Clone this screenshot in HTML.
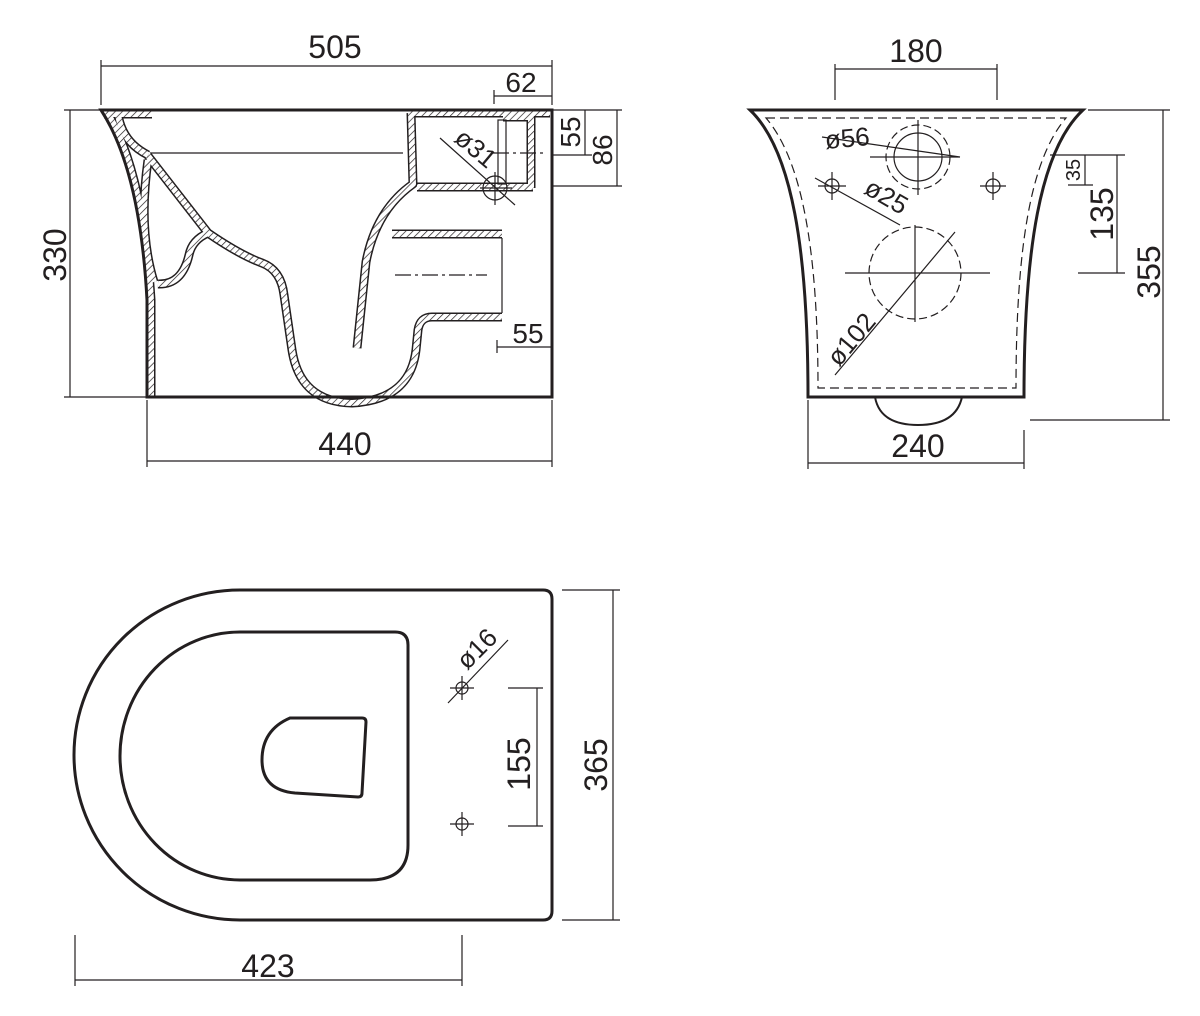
<!DOCTYPE html>
<html><head><meta charset="utf-8"><style>html,body{margin:0;padding:0;background:#fff}svg{display:block}text{font-family:"Liberation Sans",sans-serif;fill:#231f20}</style></head><body>
<svg width="1200" height="1016" viewBox="0 0 1200 1016" xmlns="http://www.w3.org/2000/svg">
<defs><pattern id="h" width="5" height="5" patternUnits="userSpaceOnUse" patternTransform="rotate(45)"><rect width="5" height="5" fill="#fff"/><line x1="0" y1="0" x2="0" y2="5" stroke="#231f20" stroke-width="1.4"/></pattern></defs>
<!-- side view hatched bands -->
<g fill="none" stroke-linejoin="round">
<g stroke="#231f20" stroke-width="9">
<path d="M108 114 Q143 172 151 300 V397"/>
<path d="M104 114 H152"/>
<path d="M118 114 Q122 142 148 155"/>
<path d="M148 156 L208 233 Q240 255 262 263 Q281 270 284 295 L292 350 Q300 402 352 403 Q410 400 416 350 L418 330 Q420 317 432 317 H502"/>
<path d="M208 233 Q192 240 189 255 Q182 285 158 284"/>
<path d="M148 160 Q138 230 154 282"/>
<path d="M409 113 H550"/>
<path d="M411 113 L413 184 Q376 210 366 262 L357 348"/>
<path d="M417 187 H533"/>
<path d="M392 234 H502"/>
<path d="M503 117 H531 V188"/>
</g>
<g stroke="url(#h)" stroke-width="6">
<path d="M108 114 Q143 172 151 300 V397"/>
<path d="M104 114 H152"/>
<path d="M118 114 Q122 142 148 155"/>
<path d="M148 156 L208 233 Q240 255 262 263 Q281 270 284 295 L292 350 Q300 402 352 403 Q410 400 416 350 L418 330 Q420 317 432 317 H502"/>
<path d="M208 233 Q192 240 189 255 Q182 285 158 284"/>
<path d="M148 160 Q138 230 154 282"/>
<path d="M409 113 H550"/>
<path d="M411 113 L413 184 Q376 210 366 262 L357 348"/>
<path d="M417 187 H533"/>
<path d="M392 234 H502"/>
<path d="M503 117 H531 V188"/>
</g>
</g>
<g stroke="#231f20" fill="none" stroke-width="1.2">
<path d="M101 110 H552 V397 H147 V300 Q140 170 101 110 Z" stroke-width="3"/>
<path d="M150 153 H403"/>
<path d="M502 238 V313"/>
<rect x="498" y="120" width="8" height="64"/>
<circle cx="495" cy="188" r="12"/>
<path d="M395 275 H487 M493 153 H547" stroke-dasharray="16 4 3 4"/>
<path d="M440 138 L515 205 M495 172 V205 M480 188 H512"/>
<!-- side dims -->
<path d="M101 105 V60 M552 105 V60 M101 66 H552 M494 90 V104 M494 96 H552 M552 60 V104"/>
<path d="M64 110 H100 M64 397 H146 M70 110 V397 M552 110 H622 M552 186 H622 M552 155 H592 M585 110 V155 M617 110 V186"/>
<path d="M147 400 V467 M552 400 V467 M147 461 H552 M497 340 V353 M497 347 H552"/>
</g>
<g font-size="32">
<text x="335" y="58" text-anchor="middle">505</text>
<text x="521" y="92" text-anchor="middle" font-size="28">62</text>
<text x="345" y="455" text-anchor="middle">440</text>
<text x="528" y="343" text-anchor="middle" font-size="28">55</text>
<text transform="translate(66,255) rotate(-90)" text-anchor="middle">330</text>
<text transform="translate(580,132) rotate(-90)" text-anchor="middle" font-size="28">55</text>
<text transform="translate(612,150) rotate(-90)" text-anchor="middle" font-size="28">86</text>
<text transform="translate(470,155) rotate(40)" text-anchor="middle" font-size="26">ø31</text>
</g>
<!-- front view -->
<g stroke="#231f20" fill="none" stroke-width="1.2">
<path d="M750 110 H1083 C1040 150 1024 250 1024 397 H808 C808 250 792 150 750 110 Z" stroke-width="3"/>
<path d="M766 118 H1066 C1030 160 1016 250 1016 388 H818 C818 250 802 160 766 118 Z" stroke-dasharray="9 5"/>
<path d="M875 397 Q880 425 918 425 Q956 425 962 397" stroke-width="2"/>
<circle cx="918" cy="157" r="32" stroke-dasharray="8 4"/>
<circle cx="918" cy="157" r="24"/>
<circle cx="915" cy="273" r="46" stroke-dasharray="8 4"/>
<path d="M870 157 H960 M918 120 V195 M822 137 L960 157 M845 273 H990 M915 225 V322 M835 375 L955 232"/>
<circle cx="832" cy="186" r="7"/><circle cx="993" cy="186" r="7"/>
<path d="M818 186 H846 M832 172 V200 M980 186 H1006 M993 172 V200 M815 178 L900 225"/>
<path d="M835 64 V100 M997 64 V100 M835 69 H997 M808 400 V469 M1024 430 V469 M808 463 H1024"/>
<path d="M1050 155 H1125 M1068 185 H1093 M1078 273 H1125 M1085 155 V185 M1117 155 V273 M1030 420 H1170 M1088 110 H1170 M1163 110 V420"/>
</g>
<g font-size="32">
<text x="916" y="62" text-anchor="middle">180</text>
<text x="918" y="457" text-anchor="middle">240</text>
<text x="848" y="147" text-anchor="middle" font-size="26" transform="rotate(-5 848 147)">ø56</text>
<text transform="translate(882,204) rotate(30)" text-anchor="middle" font-size="26">ø25</text>
<text transform="translate(858,345) rotate(-50)" text-anchor="middle" font-size="26">ø102</text>
<text transform="translate(1080,170) rotate(-90)" text-anchor="middle" font-size="20">35</text>
<text transform="translate(1113,214) rotate(-90)" text-anchor="middle">135</text>
<text transform="translate(1160,272) rotate(-90)" text-anchor="middle">355</text>
</g>
<!-- top view -->
<g stroke="#231f20" fill="none" stroke-width="1.2">
<path d="M543 590 H240 A166 165 0 0 0 240 920 H543 Q552 920 552 911 V599 Q552 590 543 590 Z" stroke-width="3"/>
<path d="M240 632 H395 Q408 632 408 645 V845 Q408 880 370 880 H240 A120 124 0 0 1 240 632 Z" stroke-width="3"/>
<path d="M290 718 H362 Q366 718 366 722 L362 793 Q362 797 358 797 L295 793 Q262 790 262 760 Q262 730 290 718 Z" stroke-width="3"/>
<circle cx="462" cy="688" r="6"/><circle cx="462" cy="824" r="6"/>
<path d="M450 688 H474 M462 676 V700 M450 824 H474 M462 812 V836 M448 703 L508 640"/>
<path d="M508 688 H543 M508 826 H543 M537 688 V826"/>
<path d="M562 590 H620 M562 920 H620 M613 590 V920"/>
<path d="M75 935 V986 M462 935 V986 M75 980 H462"/>
</g>
<g font-size="32">
<text x="268" y="977" text-anchor="middle">423</text>
<text transform="translate(530,764) rotate(-90)" text-anchor="middle">155</text>
<text transform="translate(607,765) rotate(-90)" text-anchor="middle">365</text>
<text transform="translate(483,655) rotate(-45)" text-anchor="middle" font-size="26">ø16</text>
</g>
</svg>
</body></html>
